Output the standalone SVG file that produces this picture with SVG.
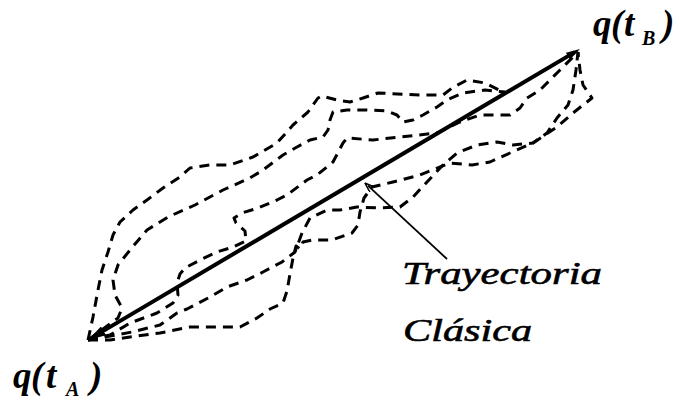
<svg xmlns="http://www.w3.org/2000/svg" width="680" height="402" viewBox="0 0 680 402">
<style>
.bg{fill:#fff}
.dash{fill:none;stroke:#000;stroke-width:3;stroke-dasharray:10 7;stroke-linejoin:round;stroke-linecap:butt}
.main{fill:none;stroke:#000;stroke-width:4}
.ptr{fill:none;stroke:#000;stroke-width:1.8}
.q{font-family:"Liberation Serif","Times New Roman",serif;font-style:italic;font-weight:bold;font-size:37px;fill:#000}
.sub{font-size:20px}
.cap{font-family:"Liberation Serif","Times New Roman",serif;font-style:italic;font-size:32px;fill:#000;stroke:#000;stroke-width:0.6}
</style>
<defs>
<marker id="headA" viewBox="0 0 18 10" refX="10" refY="5" markerWidth="18" markerHeight="10" orient="auto" markerUnits="userSpaceOnUse"><path d="M0,0 L18,5 L0,10 z" fill="#000"/></marker>
<marker id="headB" viewBox="0 0 14 8" refX="8" refY="4" markerWidth="14" markerHeight="8" orient="auto-start-reverse" markerUnits="userSpaceOnUse"><path d="M0,0 L14,4 L0,8 z" fill="#000"/></marker>
<marker id="headP" viewBox="0 0 10 7" refX="6" refY="3.5" markerWidth="10" markerHeight="7" orient="auto" markerUnits="userSpaceOnUse"><path d="M0,0 L10,3.5 L0,7" fill="none" stroke="#000" stroke-width="1.5"/></marker>
</defs>
<rect class="bg" x="0" y="0" width="680" height="402"/>
<g id="connectors">
<path id="path1" class="dash" d="M88,340 L93,317 L98,290 L102,270 L108,252 L113,235 L120,222 L133,210 L147,200 L163,188 L180,177 L190,168 L210,165 L230,165 L253,157 L277,143 L293,125 L308,112 L318,98 L322,96 L337,100 L350,102 L363,98 L378,93 L420,95 L443,95 L452,88 L467,80 L485,83 L503,92"/>
<path id="path2" class="dash" d="M88,340 L118,318 L122,308 L115,295 L113,280 L118,265 L130,250 L147,230 L168,217 L195,205 L223,190 L250,178 L263,170 L283,155 L297,147 L310,140 L323,137 L328,130 L330,120 L333,112 L347,110 L367,110 L387,111 L397,115 L403,122 L413,120 L423,115 L437,107 L447,100 L463,93 L485,90 L505,92"/>
<path id="path3" class="dash" d="M88,340 L110,335 L130,323 L157,313 L173,303 L178,295 L177,283 L180,274 L185,268 L200,260 L217,252 L233,247 L246,241 L245,231 L236,223 L234,218 L242,213 L258,208 L277,200 L287,195 L307,180 L317,175 L333,162 L343,143 L347,138 L373,140 L400,137 L437,133 L460,122 L480,115 L510,115 L520,108 L527,98 L540,90 L560,70 L578,52"/>
<path id="path4" class="dash" d="M88,340 L132,332 L160,325 L177,313 L187,309 L210,297 L227,287 L247,280 L263,272 L282,262 L295,252 L302,233 L310,218 L327,210 L340,210 L357,207 L380,208 L400,207 L413,197 L427,182 L443,165 L457,153 L477,145 L497,142 L513,145 L533,143 L547,133 L557,118 L568,105 L573,90 L576,70 L578,52"/>
<path id="path5" class="dash" d="M88,340 L110,340 L130,337 L160,333 L190,327 L240,327 L257,318 L270,309 L283,303 L287,291 L290,274 L293,258 L296,246 L300,249 L303,242 L312,240 L332,240 L352,233 L358,225 L360,212 L364,198 L372,187 L393,182 L420,175 L450,163 L472,165 L490,162 L510,153 L533,143 L557,127 L573,113 L592,98 L583,85 L580,70 L578,52"/>
<path id="classical" class="main" d="M574.8,52.1 L94.9,335.9" marker-start="url(#headB)" marker-end="url(#headA)"/>
<path id="pointer" class="ptr" d="M447,259 L367.9,185.7" marker-end="url(#headP)"/>
</g>
<g id="label-qB">
<text class="q" y="36"><tspan x="593">q</tspan><tspan x="611">(</tspan><tspan x="624">t</tspan><tspan class="sub" x="642" y="45">B</tspan><tspan x="662" y="36">)</tspan></text>
</g>
<g id="label-qA">
<text class="q" y="388"><tspan x="13">q</tspan><tspan x="31">(</tspan><tspan x="46">t</tspan><tspan class="sub" x="66" y="396">A</tspan><tspan x="90" y="388">)</tspan></text>
</g>
<g id="label-classical">
<text class="cap" x="402" y="284" textLength="200" lengthAdjust="spacingAndGlyphs">Trayectoria</text>
<text class="cap" x="403" y="341" textLength="129" lengthAdjust="spacingAndGlyphs">Clásica</text>
</g>
</svg>
